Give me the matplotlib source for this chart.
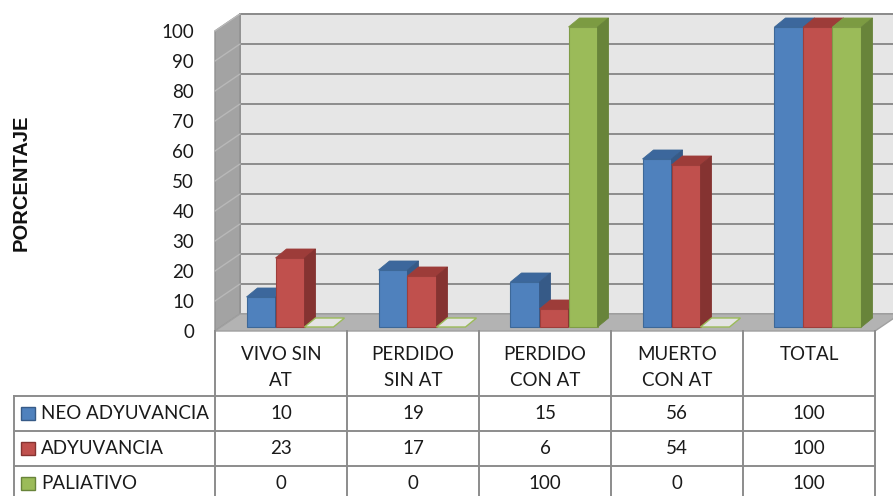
import matplotlib.pyplot as plt
import matplotlib.transforms as mtransforms
from matplotlib.patches import Polygon

plt.rcParams['font.family'] = ['Lato', 'DejaVu Sans']

categories = ['VIVO SIN\nAT', 'PERDIDO\nSIN AT', 'PERDIDO\nCON AT', 'MUERTO\nCON AT', 'TOTAL']
series = ['NEO ADYUVANCIA', 'ADYUVANCIA', 'PALIATIVO']
neo = [10, 19, 15, 56, 100]
ady = [23, 17, 6, 54, 100]
pal = [0, 0, 100, 0, 100]
yticks = list(range(0, 101, 10))

face_c = ['#4F81BD', '#C0504D', '#9BBB59']
top_c = ['#3C679C', '#9D3C39', '#7C9B42']
side_c = ['#365A87', '#853331', '#68843A']
edge_c = ['#3D6898', '#9E3E3B', '#7F9C47']

W, H = 893, 496
PX_CAT, PX_UNIT = 132.0, 3.0   # pixel size of one category / one percent on the front plane
FS = 13.5


def dd(dx, dy):
    # pixel offset -> data offset
    return dx / PX_CAT, dy / PX_UNIT


fig = plt.figure(figsize=(W / 100, H / 100), dpi=100)
ax = fig.add_axes([215 / W, (H - 331) / H, 660 / W, 300 / H])
ax.set_xlim(-0.5, 4.5)
ax.set_ylim(0, 100)
ax.patch.set_visible(False)
for s in ax.spines.values():
    s.set_visible(False)
ax.set_xticks([])
ax.set_yticks(yticks)
ax.tick_params(axis='y', length=0, pad=15, labelsize=FS, labelcolor='#1a1a1a')

# walls and floor
bx, by = dd(25, 17)
x0, x1 = -0.5, 4.5
ax.add_patch(Polygon([(x0 + bx, by), (x1 + bx + 1, by), (x1 + bx + 1, 100 + by), (x0 + bx, 100 + by)],
                     facecolor='#E6E6E6', edgecolor='#8C8C8C', lw=1.2, zorder=0, clip_on=False))
ax.add_patch(Polygon([(x0, 0), (x0 + bx, by), (x0 + bx, 100 + by), (x0, 100)],
                     facecolor='#A3A3A3', edgecolor='#909090', lw=1.0, zorder=0, clip_on=False))
ax.add_patch(Polygon([(x0, 0), (x1, 0), (x1 + bx, by), (x0 + bx, by)],
                     facecolor='#B3B3B3', edgecolor='#A0A0A0', lw=1.0, zorder=1, clip_on=False))
for v in yticks[1:]:
    ax.plot([x0 + bx, x1 + bx + 1], [v + by, v + by], color='#8C8C8C', lw=1.4, zorder=0.5, clip_on=False)
    ax.plot([x0, x0 + bx], [v, v + by], color='#B8B8B8', lw=1.0, zorder=0.5, clip_on=False)

# bars
values = [neo, ady, pal]
w = 29 / PX_CAT
px_, py_ = dd(9, 4)
tx, ty = dd(11, 9)
for i in range(len(categories)):
    for j, vals in enumerate(values):
        h = vals[i]
        l = i - 1.5 * w + j * w + px_
        r = l + w
        b = py_
        t = py_ + h
        z = 3 + j * 0.1
        if h == 0:
            ax.add_patch(Polygon([(l, t), (r, t), (r + tx, t + ty), (l + tx, t + ty)],
                                 facecolor='#E4E4E4', edgecolor=face_c[j], lw=1.0, zorder=z, clip_on=False))
            continue
        ax.add_patch(Polygon([(l, b), (r, b), (r, t), (l, t)],
                             facecolor=face_c[j], edgecolor=edge_c[j], lw=0.8, zorder=z, clip_on=False))
        ax.add_patch(Polygon([(l, t), (r, t), (r + tx, t + ty), (l + tx, t + ty)],
                             facecolor=top_c[j], edgecolor=edge_c[j], lw=0.6, zorder=z, clip_on=False))
        ax.add_patch(Polygon([(r, b), (r + tx, b + ty), (r + tx, t + ty), (r, t)],
                             facecolor=side_c[j], edgecolor=side_c[j], lw=0.6, zorder=z, clip_on=False))

# data table (x from the axes data, y in image pixels)
pix = mtransforms.Affine2D().scale(1 / 100, -1 / 100).translate(0, H / 100) + fig.dpi_scale_trans
tr = mtransforms.blended_transform_factory(ax.transData, pix)
grid = '#8C8C8C'
leg_x = x0 - (215 - 14) / PX_CAT
rows_y = [396, 431, 466, 501]
for k in range(6):
    ax.plot([x0 + k, x0 + k], [331, 500], transform=tr, color=grid, lw=1.4, clip_on=False, zorder=5)
ax.plot([leg_x, leg_x], [396, 500], transform=tr, color=grid, lw=1.4, clip_on=False, zorder=5)
for y in rows_y:
    ax.plot([leg_x, x1], [y, y], transform=tr, color=grid, lw=1.4, clip_on=False, zorder=5)

for i, cat in enumerate(categories):
    ax.text(i, 346, cat, transform=tr, ha='center', va='top', fontsize=FS,
            linespacing=1.65, color='#1a1a1a')
for j, (name, vals) in enumerate(zip(series, values)):
    yc = (rows_y[j] + rows_y[j + 1]) / 2
    ax.text(x0 - 174 / PX_CAT, yc, name, transform=tr, ha='left', va='center', fontsize=FS, color='#1a1a1a')
    ax.add_patch(Polygon([(x0 - 194 / PX_CAT, yc - 6.5), (x0 - 180 / PX_CAT, yc - 6.5),
                          (x0 - 180 / PX_CAT, yc + 6.5), (x0 - 194 / PX_CAT, yc + 6.5)],
                         transform=tr, facecolor=face_c[j], edgecolor=side_c[j], lw=1.0,
                         clip_on=False, zorder=6))
    for i, v in enumerate(vals):
        ax.text(i, yc, str(v), transform=tr, ha='center', va='center', fontsize=FS, color='#1a1a1a')

fig.text(21 / W, 1 - 183 / H, 'PORCENTAJE', rotation=90, ha='center', va='center',
         fontsize=14.5, fontweight='bold', family=['Liberation Sans', 'DejaVu Sans'], color='#111111')

fig.savefig('out.png', dpi=100)
